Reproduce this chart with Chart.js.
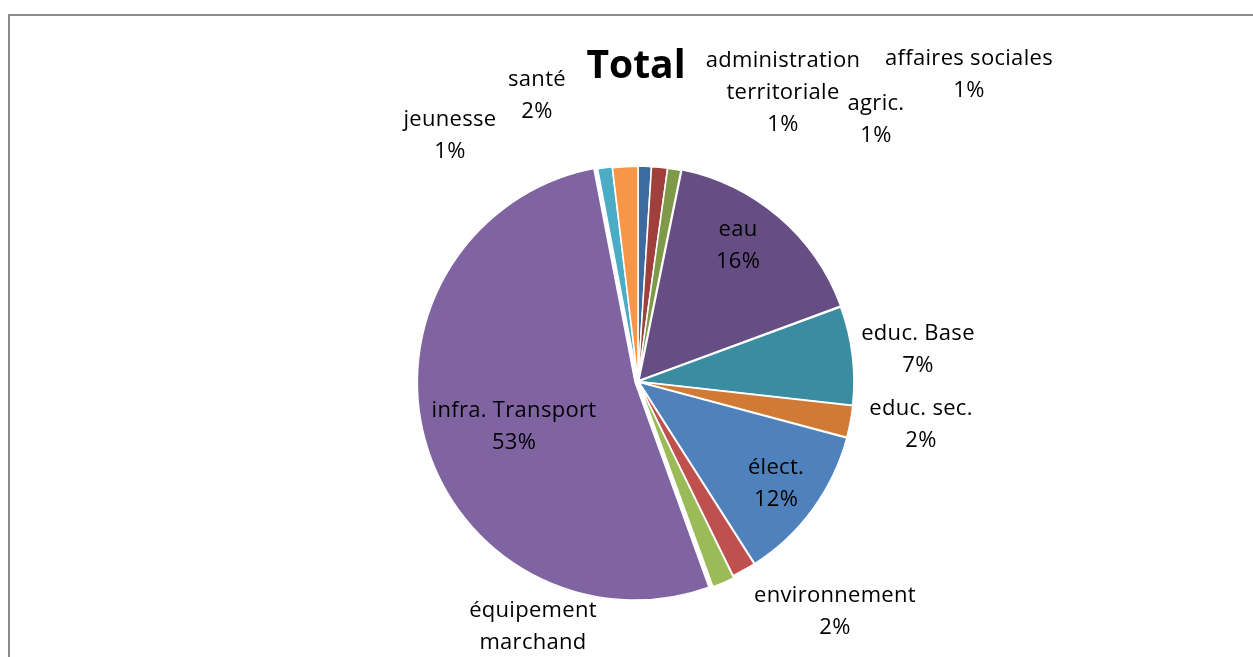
<!DOCTYPE html>
<html>
<head>
  <meta charset="UTF-8">
  <script src="https://cdn.jsdelivr.net/npm/chart.js"></script>
  <style>
    html, body { margin: 0; padding: 0; background: #fff; }
    #wrap { position: relative; width: 1253px; height: 657px; }
  </style>
</head>
<body>
<div id="wrap"><canvas id="myChart" width="1253" height="657"></canvas></div>
<script>
// data (share of total, %)
var names = [
  ["affaires sociales"],
  ["administration", "territoriale"],
  ["agric."],
  ["eau"],
  ["educ. Base"],
  ["educ. sec."],
  ["élect."],
  ["environnement"],
  ["équipement", "marchand"],
  ["infra. Transport"],
  ["jeunesse"],
  ["santé"]
];
var values = [1.0, 1.2, 1.0, 16.2, 7.4, 2.4, 11.8, 1.8, 1.7, 52.6, 1.1, 1.9];
var pct_labels = ["1%", "1%", "1%", "16%", "7%", "2%", "12%", "2%", "2%", "53%", "1%", "2%"];

var colors = ["#3E6B9F", "#A0403D", "#7E9A48", "#664E85", "#3A8DA0", "#D17A35",
              "#4F81BD", "#C0504D", "#9BBB59", "#8064A2", "#4BACC6", "#F79646"];
var explode = [1, 1, 1, 6, 3, 3, 5, 3, 8, 12, 3, 1];

// where Excel put each label, relative to pie centre (px)
var label_pos = [
  [331, -307], [145, -289], [238, -262], [100, -136], [280, -32], [283, 43],
  [138, 102], [197, 230], [-105, 261], [-124, 45], [-188, -246], [-101, -286]
];

var labelsPlugin = {
  id: 'excelLook',
  beforeDraw: function(chart) {
    var ctx = chart.ctx;
    ctx.save();
    ctx.strokeStyle = '#8c8c8c';
    ctx.lineWidth = 2;
    ctx.beginPath();
    ctx.moveTo(9, 700);
    ctx.lineTo(9, 15);
    ctx.lineTo(1260, 15);
    ctx.stroke();
    ctx.restore();
  },
  afterDraw: function(chart) {
    var ctx = chart.ctx;
    var arc = chart.getDatasetMeta(0).data[0];
    var cx = arc.x, cy = arc.y;
    ctx.save();
    ctx.fillStyle = '#000';
    ctx.textAlign = 'center';
    ctx.textBaseline = 'middle';
    ctx.font = 'bold 39px "Open Sans"';
    ctx.fillText('Total', cx - 2, 67);
    ctx.font = '22px "Open Sans"';
    ctx.letterSpacing = '0.3px';
    for (var i = 0; i < names.length; i++) {
      var lines = names[i].concat([pct_labels[i]]);
      var lh = 32;
      var y0 = cy + label_pos[i][1] - (lines.length - 1) * lh / 2;
      for (var j = 0; j < lines.length; j++) {
        ctx.fillText(lines[j], cx + label_pos[i][0], y0 + j * lh);
      }
    }
    ctx.restore();
  }
};

new Chart(document.getElementById('myChart'), {
  type: 'pie',
  data: {
    labels: names.map(function(n) { return n.join(' '); }),
    datasets: [{
      data: values,
      backgroundColor: colors,
      borderColor: '#ffffff',
      borderWidth: 1.5,
      offset: explode
    }]
  },
  options: {
    responsive: false,
    animation: false,
    layout: { padding: { left: 23, right: 0, top: 160, bottom: 54 } },
    plugins: {
      legend: { display: false },
      tooltip: { enabled: false },
      title: { display: false }
    }
  },
  plugins: [labelsPlugin]
});
</script>
</body>
</html>
